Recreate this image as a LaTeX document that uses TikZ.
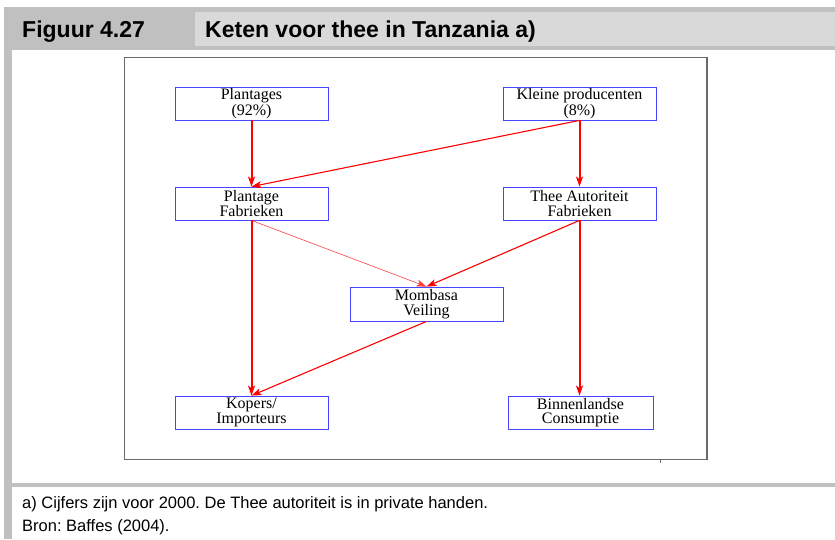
\documentclass[tikz,border=0pt]{standalone}
\usepackage{fontspec}
\setmainfont{Liberation Serif}
\newfontfamily\nodefnt{Liberation Serif}
\newfontfamily\hdfont{Liberation Sans}
\usetikzlibrary{arrows.meta}
\definecolor{bandgray}{HTML}{C0C0C0}
\definecolor{lightgray}{HTML}{D9D9D9}
\definecolor{boxblue}{HTML}{4646FF}
\definecolor{framegray}{HTML}{6A6A6A}
\begin{document}
\frenchspacing
\begin{tikzpicture}[x=1pt,y=-1pt,
  box/.style={draw=boxblue, line width=0.8pt, minimum width=153pt, minimum height=33pt,
    inner sep=0pt, align=center, text=black, font=\nodefnt\fontsize{16}{14.5}\selectfont},
  tip/.style={-{Stealth[length=10pt,width=7pt,inset=2.5pt]}},
  arrthick/.style={tip, draw=red, line width=2pt},
  arrmid/.style={tip, draw=red, line width=1.1pt},
  arrthin/.style={tip, draw=red!75, line width=0.6pt},
  heading/.style={anchor=base west, inner sep=0pt, font=\hdfont\bfseries\fontsize{23}{26}\selectfont},
  note/.style={anchor=base west, inner sep=0pt, font=\hdfont\fontsize{16.5}{19}\selectfont}
]
\useasboundingbox (0,0) rectangle (835,539);
\fill[white] (0,0) rectangle (835,539);
% title band and borders
\fill[bandgray] (4,7) rectangle (835,50);
\fill[bandgray] (4,7) rectangle (12,539);
\fill[bandgray] (4,483) rectangle (835,487);
\fill[lightgray] (195,12) rectangle (835,46);
\node[heading] (fig) at (22,37) {Figuur 4.27};
\node[heading] (title) at (205,37) {Keten voor thee in Tanzania a)};
% inner frame
\draw[framegray, line width=1pt] (124,57) rectangle (707,459);
\draw[framegray, line width=1pt] (706.5,58) -- (706.5,460);
\draw[framegray, line width=0.5pt] (660,459) -- (660,463);
% nodes
\node[box] (pl)  at (251.5,103.5) {Plantages\\(92\%)};
\node[box] (kp)  at (579.5,103.5) {Kleine producenten\\(8\%)};
\node[box] (pf)  at (251.5,203.5) {Plantage\\Fabrieken};
\node[box] (taf) at (579.5,203.5) {Thee Autoriteit\\Fabrieken};
\node[box, minimum height=34pt] (mv) at (426.5,304) {Mombasa\\Veiling};
\node[box] (ki)  at (251.5,412.5) {Kopers/\\Importeurs};
\node[box, minimum width=145pt] (bc) at (580.5,412.5) {Binnenlandse\\Consumptie};
% connectors
\draw[arrthick] (pl.south) -- (pf.north);
\draw[arrmid] (kp.south) -- (pf.north);
\draw[arrthick] (kp.south) -- (taf.north);
\draw[arrthin] (pf.south) -- (mv.north);
\draw[arrmid] (taf.south) -- (mv.north);
\draw[arrthick] (pf.south) -- (ki.north);
\draw[arrmid] (mv.south) -- (ki.north);
\draw[arrthick] (taf.south) -- (taf.south |- bc.north);
% notes
\node[note] (n1) at (22,508) {a) Cijfers zijn voor 2000. De Thee autoriteit is in private handen.};
\node[note] (n2) at (22,531) {Bron: Baffes (2004).};
\end{tikzpicture}
\end{document}
